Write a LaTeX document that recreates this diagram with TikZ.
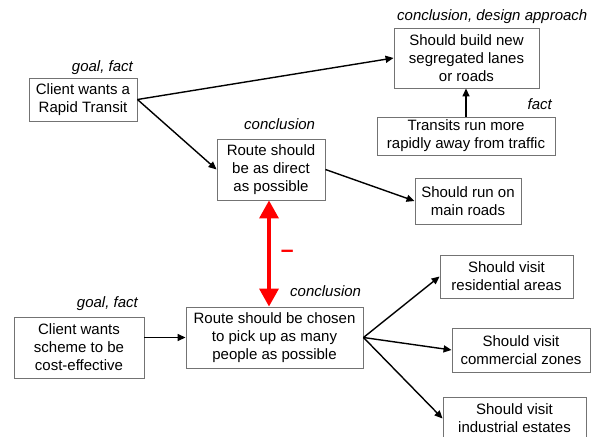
\documentclass[tikz,border=0pt]{standalone}
\usepackage{fontspec}
\setmainfont{Liberation Sans}
\usetikzlibrary{arrows.meta}
\begin{document}
\begin{tikzpicture}[
  x=1pt, y=-1pt,
  every node/.style={font=\fontsize{15}{18}\selectfont, align=center, inner sep=2pt},
  claim/.style={draw=black!55, line width=0.9pt},
  tag/.style={font=\fontsize{15}{18}\selectfont\itshape, inner sep=0pt},
  link/.style={draw, line width=1.4pt, -{Triangle[length=8pt,width=7pt]}},
  clash/.style={draw=red, line width=3.5pt,
    {Triangle[length=18pt,width=19pt]}-{Triangle[length=18pt,width=19pt]}}
]
\useasboundingbox (0,0) rectangle (591,436);
% upper argument
\node[claim, minimum width=108pt, minimum height=43pt] (A) at (83,99.5)
  {Client wants a\\Rapid Transit};
\node[claim, minimum width=145pt, minimum height=60pt] (B) at (466.5,58)
  {Should build new\\segregated lanes\\or roads};
\node[claim, minimum width=178pt, minimum height=38pt] (C) at (466,136)
  {Transits run more\\rapidly away from traffic};
\node[claim, minimum width=108pt, minimum height=61pt] (D) at (271,169.5)
  {Route should\\be as direct\\as possible};
\node[claim, minimum width=106pt, minimum height=46pt] (E) at (468,201)
  {Should run on\\main roads};
% lower argument
\node[claim, minimum width=177pt, minimum height=61pt] (F) at (274.5,337.5)
  {Route should be chosen\\to pick up as many\\people as possible};
\node[claim, minimum width=130pt, minimum height=61pt] (G) at (79,347.5)
  {Client wants\\scheme to be\\cost-effective};
\node[claim, minimum width=133pt, minimum height=43pt] (H) at (506.5,276.5)
  {Should visit\\residential areas};
\node[claim, minimum width=138pt, minimum height=44pt] (I) at (521,350)
  {Should visit\\commercial zones};
\node[claim, minimum width=143pt, minimum height=43pt] (J) at (514.5,418.5)
  {Should visit\\industrial estates};
% kinds
\node[tag, anchor=base east] (tA) at (133,71) {goal, fact};
\node[tag, anchor=base west] (tB) at (397,21) {conclusion, design approach};
\node[tag, anchor=base east] (tC) at (552,109) {fact};
\node[tag, anchor=base west] (tD) at (244,129) {conclusion};
\node[tag, anchor=base west] (tF) at (290,296) {conclusion};
\node[tag, anchor=base east] (tG) at (138,307) {goal, fact};
% links
\draw[link] (A.east) -- (B.west);
\draw[link] (A.east) -- (D.west);
\draw[link] (C.north) -- (C.north |- B.south);
\draw[link] (D.east) -- (E.west);
\draw[link] (G.east |- F.west) -- (F.west);
\draw[link] (F.east) -- (H.west);
\draw[link] (F.east) -- (I.west);
\draw[link] (F.east) -- (J.west);
\draw[clash] ([xshift=-2pt]D.south) -- ([xshift=-2pt]D.south |- F.north)
  node[midway, right=8pt, text=red, font=\fontsize{23}{23}\selectfont\bfseries] (neg) {–};
\end{tikzpicture}
\end{document}
